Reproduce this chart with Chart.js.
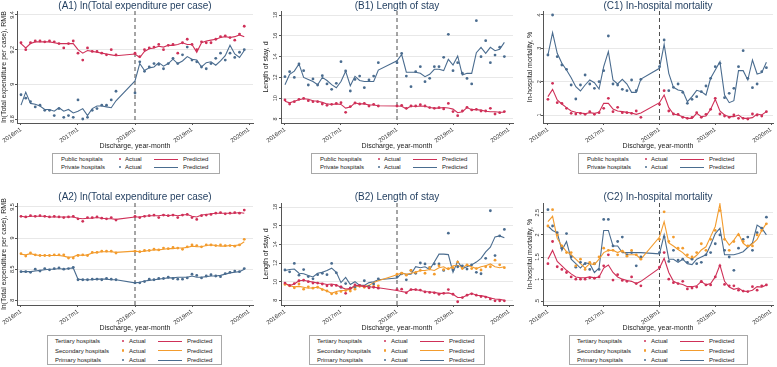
<!DOCTYPE html>
<html>
<head>
<meta charset="utf-8">
<script src="https://cdn.jsdelivr.net/npm/chart.js@4.4.1/dist/chart.umd.min.js"></script>
<style>
  body { margin: 0; width: 777px; height: 367px; background: #fff; position: relative; overflow: hidden; font-family: 'Liberation Sans', Arial, sans-serif; }
  canvas { position: absolute; }
  .legend { position: absolute; border: 1px solid #a8a8a8; box-sizing: border-box; background: #fff; }
  .legend span { position: absolute; white-space: nowrap; font-size: 6px; line-height: 8px; color: #222; }
  .legend i { position: absolute; display: block; }
</style>
</head>
<body>
<canvas id="a1"></canvas><canvas id="b1"></canvas><canvas id="c1"></canvas>
<canvas id="a2"></canvas><canvas id="b2"></canvas><canvas id="c2"></canvas>
<script>
// month index from 2016m1 (0); 2017m10-2017m12 are missing
const monthIdx = [0, 1, 2, 3, 4, 5, 6, 7, 8, 9, 10, 11, 12, 13, 14, 15, 16, 17, 18, 19, 20,
  24, 25, 26, 27, 28, 29, 30, 31, 32, 33, 34, 35, 36, 37, 38, 39, 40, 41, 42, 43, 44, 45, 46, 47];
const cutoffMonth = 24;
const xTickValues = [0, 12, 24, 36, 48];
const xTickLabels = ['2016m1', '2017m1', '2018m1', '2019m1', '2020m1'];

// (A1) ln(Total expenditure per case)
const a1PublicActual = [9.24, 9.20, 9.24, 9.25, 9.25, 9.245, 9.25, 9.245, 9.235, 9.21, 9.235, 9.25, 9.18, 9.14, 9.21, 9.19, 9.19, 9.18, 9.17, 9.20, 9.17,
  9.18, 9.16, 9.20, 9.21, 9.215, 9.23, 9.20, 9.225, 9.23, 9.18, 9.24, 9.26, 9.23, 9.20, 9.245, 9.24, 9.24, 9.26, 9.275, 9.28, 9.27, 9.255, 9.29, 9.335];
const a1PublicPred = [9.235, 9.21, 9.235, 9.245, 9.245, 9.245, 9.245, 9.24, 9.235, 9.235, 9.235, 9.235, 9.20, 9.18, 9.195, 9.19, 9.185, 9.18, 9.175, 9.17, 9.165,
  9.175, 9.155, 9.19, 9.205, 9.21, 9.22, 9.215, 9.225, 9.225, 9.23, 9.24, 9.23, 9.23, 9.185, 9.24, 9.25, 9.255, 9.26, 9.27, 9.275, 9.27, 9.275, 9.285, 9.275];
const a1PrivateActual = [8.94, 8.92, 8.90, 8.87, 8.88, 8.85, 8.85, 8.82, 8.86, 8.81, 8.82, 8.81, 8.91, 8.80, 8.81, 8.85, 8.86, 8.88, 8.88, 8.91, 8.96,
  8.95, 9.13, 9.075, 9.10, 9.12, 9.115, 9.09, 9.12, 9.15, 9.12, 9.17, 9.215, 9.14, 9.13, 9.10, 9.09, 9.12, 9.15, 9.18, 9.14, 9.18, 9.155, 9.185, 9.20];
const a1PrivatePred = [8.88, 8.955, 8.89, 8.885, 8.875, 8.855, 8.855, 8.845, 8.865, 8.845, 8.855, 8.835, 8.845, 8.86, 8.82, 8.86, 8.875, 8.875, 8.87, 8.865, 8.905,
  9.02, 9.12, 9.08, 9.095, 9.10, 9.125, 9.105, 9.12, 9.145, 9.12, 9.135, 9.16, 9.145, 9.14, 9.10, 9.125, 9.13, 9.11, 9.135, 9.165, 9.225, 9.175, 9.155, 9.195];

// (B1) Length of stay
const b1PublicActual = [9.83, 9.44, 9.67, 9.89, 9.99, 9.76, 9.67, 9.67, 9.44, 9.31, 9.41, 9.5, 9.57, 8.64, 9.19, 9.54, 9.44, 9.5, 9.25, 9.41, 9.25,
  9.25, 9.31, 9.03, 9.25, 9.25, 9.38, 9.25, 9.1, 9.03, 9.1, 8.97, 9.5, 8.71, 8.32, 8.77, 9.12, 8.87, 8.93, 8.77, 8.77, 9.03, 8.48, 8.61, 8.71];
const b1PublicPred = [9.7, 9.55, 9.7, 9.85, 9.95, 9.9, 9.75, 9.7, 9.6, 9.45, 9.4, 9.45, 9.4, 9.05, 9.15, 9.55, 9.45, 9.45, 9.35, 9.35, 9.28,
  9.25, 9.22, 8.98, 9.25, 9.2, 9.25, 9.22, 9.1, 9.05, 9.05, 9.1, 9.05, 8.95, 8.6, 8.7, 9.1, 8.9, 8.9, 8.85, 8.75, 8.7, 8.7, 8.65, 8.65];
const b1PrivateActual = [12.07, 12.55, 12.0, 13.29, 12.65, 11.27, 11.85, 11.27, 12.17, 11.37, 10.85, 11.43, 13.51, 12.62, 10.69, 11.81, 12.13, 11.01, 11.75, 12.13, 13.42,
  13.42, 14.31, 12.13, 11.11, 12.55, 13.03, 11.59, 11.91, 13.03, 13.03, 13.93, 16.14, 12.65, 13.42, 12.4, 11.9, 11.37, 17.45, 13.99, 15.53, 13.42, 14.15, 14.9, 14.0];
const b1PrivatePred = [11.3, 12.3, 12.6, 13.3, 12.0, 11.8, 11.6, 11.3, 12.0, 11.7, 11.3, 11.0, 11.6, 12.6, 11.2, 12.1, 11.7, 11.6, 11.6, 11.6, 12.7,
  13.6, 14.2, 12.5, 12.5, 12.5, 12.4, 12.07, 12.3, 12.78, 12.78, 12.65, 13.74, 13.19, 14.06, 12.23, 12.39, 12.39, 14.38, 14.89, 14.31, 14.89, 14.57, 14.7, 15.37];

// (C1) In-hospital mortality
const c1PublicActual = [1.47, 1.95, 1.37, 1.35, 1.2, 1.05, 1.03, 1.05, 1.02, 1.1, 1.02, 1.07, 1.2, 1.5, 1.1, 1.23, 1.07, 1.07, 1.05, 1.12, 0.93,
  1.32, 1.73, 1.12, 1.03, 1.02, 0.93, 0.9, 0.93, 1.07, 0.93, 1.02, 1.17, 1.5, 1.03, 0.97, 0.93, 1.0, 0.9, 0.9, 0.88, 1.03, 1.0, 0.97, 1.1];
const c1PublicPred = [1.55, 1.77, 1.45, 1.33, 1.22, 1.12, 1.08, 1.06, 1.04, 1.07, 1.05, 1.08, 1.35, 1.35, 1.18, 1.12, 1.1, 1.08, 1.06, 1.02, 1.06,
  1.37, 1.6, 1.22, 1.03, 1.0, 0.95, 0.9, 0.9, 1.05, 0.95, 0.97, 1.17, 1.47, 1.12, 1.0, 0.95, 0.95, 1.0, 0.9, 0.9, 0.92, 1.03, 1.0, 1.1];
const c1PrivateActual = [2.8, 4.0, 2.75, 2.5, 2.37, 1.9, 1.48, 1.9, 2.2, 1.93, 1.8, 2.0, 2.33, 3.37, 1.93, 1.9, 1.77, 1.73, 2.05, 1.73, 2.07,
  2.45, 3.25, 1.73, 1.83, 1.93, 1.68, 1.35, 1.47, 1.55, 1.7, 1.87, 2.1, 2.45, 2.55, 1.52, 1.65, 1.8, 2.45, 2.93, 2.1, 1.82, 1.93, 2.3, 2.42];
const c1PrivatePred = [2.8, 3.47, 2.85, 2.55, 2.35, 2.12, 1.85, 1.72, 1.9, 2.05, 1.97, 1.78, 2.45, 2.9, 2.05, 1.93, 2.07, 1.93, 1.68, 1.68, 2.08,
  2.4, 3.12, 2.25, 1.83, 1.75, 1.72, 1.4, 1.55, 1.74, 1.7, 1.6, 2.1, 2.35, 2.6, 1.6, 1.37, 1.43, 2.33, 2.33, 2.05, 2.65, 2.23, 2.27, 2.58];

// (A2) ln(Total expenditure per case) by level
const a2TertiaryActual = [9.35, 9.34, 9.36, 9.35, 9.36, 9.35, 9.34, 9.35, 9.34, 9.33, 9.34, 9.35, 9.31, 9.27, 9.33, 9.33, 9.34, 9.32, 9.31, 9.33, 9.29,
  9.35, 9.33, 9.35, 9.36, 9.37, 9.33, 9.37, 9.36, 9.37, 9.33, 9.37, 9.38, 9.33, 9.30, 9.36, 9.37, 9.38, 9.40, 9.41, 9.39, 9.40, 9.41, 9.40, 9.45];
const a2TertiaryPred = [9.35, 9.34, 9.35, 9.35, 9.35, 9.35, 9.34, 9.34, 9.34, 9.34, 9.34, 9.34, 9.32, 9.31, 9.32, 9.32, 9.33, 9.32, 9.31, 9.31, 9.30,
  9.34, 9.34, 9.35, 9.36, 9.36, 9.36, 9.37, 9.36, 9.37, 9.36, 9.37, 9.38, 9.35, 9.34, 9.37, 9.38, 9.39, 9.40, 9.40, 9.40, 9.40, 9.40, 9.41, 9.40];
const a2SecondaryActual = [8.75, 8.71, 8.76, 8.73, 8.72, 8.72, 8.72, 8.73, 8.73, 8.73, 8.68, 8.68, 8.72, 8.73, 8.72, 8.77, 8.77, 8.79, 8.79, 8.79, 8.76,
  8.79, 8.78, 8.80, 8.80, 8.82, 8.81, 8.84, 8.83, 8.85, 8.84, 8.82, 8.86, 8.89, 8.88, 8.86, 8.89, 8.89, 8.88, 8.89, 8.88, 8.88, 8.87, 8.89, 8.98];
const a2SecondaryPred = [8.74, 8.73, 8.75, 8.73, 8.72, 8.72, 8.72, 8.72, 8.72, 8.71, 8.69, 8.70, 8.73, 8.72, 8.73, 8.76, 8.77, 8.78, 8.78, 8.78, 8.77,
  8.79, 8.78, 8.79, 8.80, 8.81, 8.81, 8.82, 8.83, 8.83, 8.84, 8.84, 8.85, 8.87, 8.86, 8.86, 8.88, 8.89, 8.88, 8.87, 8.87, 8.88, 8.88, 8.89, 8.94];
const a2PrimaryActual = [8.46, 8.46, 8.45, 8.50, 8.47, 8.51, 8.49, 8.51, 8.52, 8.50, 8.51, 8.53, 8.33, 8.33, 8.33, 8.34, 8.34, 8.33, 8.35, 8.34, 8.33,
  8.28, 8.28, 8.30, 8.34, 8.33, 8.35, 8.35, 8.37, 8.35, 8.34, 8.34, 8.36, 8.42, 8.40, 8.36, 8.39, 8.41, 8.39, 8.38, 8.43, 8.45, 8.47, 8.46, 8.51];
const a2PrimaryPred = [8.46, 8.46, 8.46, 8.47, 8.48, 8.49, 8.50, 8.50, 8.51, 8.50, 8.51, 8.52, 8.34, 8.33, 8.33, 8.33, 8.34, 8.34, 8.34, 8.33, 8.33,
  8.28, 8.29, 8.31, 8.32, 8.33, 8.34, 8.35, 8.36, 8.36, 8.37, 8.37, 8.37, 8.39, 8.37, 8.37, 8.38, 8.39, 8.39, 8.40, 8.42, 8.44, 8.45, 8.46, 8.50];

// (B2) Length of stay by level
const b2TertiaryActual = [9.85, 9.6, 9.8, 10.1, 10.15, 10.0, 9.85, 9.85, 9.75, 9.55, 9.6, 9.6, 9.45, 8.75, 9.3, 9.65, 9.6, 9.5, 9.35, 9.4, 9.3,
  9.15, 9.2, 8.8, 9.15, 9.15, 9.1, 8.9, 8.85, 8.8, 8.65, 8.75, 9.15, 8.65, 7.85, 8.3, 8.55, 8.7, 8.55, 8.4, 8.35, 8.15, 7.95, 7.95, 7.95];
const b2TertiaryPred = [9.8, 9.6, 9.75, 10.1, 10.15, 10.05, 9.95, 9.85, 9.8, 9.7, 9.75, 9.65, 9.4, 9.2, 9.25, 9.6, 9.55, 9.5, 9.45, 9.4, 9.35,
  9.05, 8.95, 8.85, 9.15, 9.15, 9.05, 8.95, 8.9, 8.85, 8.75, 8.75, 8.8, 8.65, 8.3, 8.3, 8.55, 8.75, 8.55, 8.5, 8.4, 8.25, 8.15, 8.1, 8.0];
const b2SecondaryActual = [9.7, 9.55, 9.35, 9.75, 9.2, 9.45, 9.3, 9.4, 9.15, 9.0, 8.7, 8.75, 8.95, 9.05, 9.0, 9.2, 9.5, 9.4, 9.35, 9.5, 9.55,
  10.8, 10.9, 10.7, 11.2, 11.0, 11.2, 10.9, 11.5, 10.8, 11.7, 11.3, 11.4, 11.5, 12.1, 11.4, 11.8, 11.4, 11.4, 11.25, 11.6, 11.6, 12.3, 11.8, 11.5];
const b2SecondaryPred = [9.8, 9.55, 9.45, 9.5, 9.4, 9.3, 9.35, 9.4, 9.2, 9.0, 8.75, 8.95, 9.05, 9.05, 9.2, 9.5, 9.55, 9.5, 9.6, 9.9, 10.1,
  10.75, 10.95, 10.8, 10.9, 11.0, 11.2, 11.2, 11.3, 11.2, 11.5, 11.6, 11.3, 11.7, 11.75, 11.5, 11.8, 11.6, 11.4, 11.6, 11.7, 11.9, 11.6, 11.5, 11.6];
const b2PrimaryActual = [11.25, 11.05, 11.95, 10.7, 11.3, 10.55, 10.3, 10.75, 10.9, 10.75, 11.95, 10.95, 9.4, 9.8, 9.3, 9.35, 9.55, 10.1, 9.5, 9.75, 10.3,
  10.5, 10.85, 10.2, 11.2, 10.9, 12.0, 11.9, 11.5, 11.9, 11.9, 11.2, 15.2, 11.25, 11.6, 11.7, 11.35, 11.8, 11.0, 10.85, 12.5, 17.6, 12.8, 14.9, 15.6];
const b2PrimaryPred = [11.2, 11.3, 11.35, 10.9, 10.85, 10.65, 10.5, 10.9, 11.0, 11.2, 11.45, 11.0, 9.9, 10.45, 9.7, 10.0, 9.6, 9.6, 9.9, 10.0, 10.2,
  10.4, 10.9, 10.8, 10.8, 11.6, 11.5, 11.6, 11.3, 12.1, 12.95, 12.95, 12.9, 11.0, 12.2, 11.4, 11.6, 11.8, 12.1, 12.5, 13.2, 13.7, 14.8, 14.9, 14.7];

// (C2) In-hospital mortality by level
const c2TertiaryActual = [1.35, 1.85, 1.28, 1.22, 1.15, 1.05, 1.0, 1.0, 1.0, 1.03, 1.02, 1.05, 1.3, 1.55, 0.98, 1.1, 0.97, 0.95, 1.05, 0.9, 0.85,
  1.27, 1.6, 1.0, 0.92, 0.9, 0.95, 0.78, 0.8, 0.82, 0.95, 0.87, 0.87, 1.05, 1.3, 0.88, 0.85, 0.85, 0.75, 0.73, 0.72, 0.83, 0.75, 0.85, 0.87];
const c2TertiaryPred = [1.45, 1.65, 1.4, 1.3, 1.2, 1.12, 1.05, 1.03, 1.03, 1.05, 1.03, 1.05, 1.25, 1.32, 1.15, 1.05, 1.0, 0.97, 0.95, 0.9, 0.95,
  1.25, 1.47, 1.15, 0.95, 0.9, 0.88, 0.83, 0.83, 0.85, 0.95, 0.87, 0.9, 1.05, 1.32, 0.95, 0.82, 0.77, 0.8, 0.73, 0.72, 0.75, 0.83, 0.82, 0.87];
const c2SecondaryActual = [2.2, 2.57, 2.0, 1.75, 1.6, 1.6, 1.3, 1.45, 1.22, 1.38, 1.35, 1.5, 1.7, 1.65, 1.65, 1.55, 1.63, 1.52, 1.65, 1.55, 1.45,
  1.9, 2.52, 1.85, 1.95, 1.7, 1.7, 1.55, 1.5, 1.6, 1.8, 1.65, 1.9, 2.1, 2.55, 1.9, 1.65, 1.85, 2.0, 1.85, 1.75, 1.75, 2.0, 2.1, 2.25];
const c2SecondaryPred = [2.3, 2.42, 1.92, 1.75, 1.62, 1.55, 1.45, 1.35, 1.25, 1.35, 1.33, 1.45, 1.6, 1.65, 1.65, 1.6, 1.65, 1.55, 1.55, 1.55, 1.45,
  1.95, 2.3, 1.82, 1.75, 1.67, 1.6, 1.5, 1.45, 1.54, 1.66, 1.73, 1.96, 2.19, 2.7, 1.92, 1.77, 1.88, 2.03, 1.81, 1.73, 1.8, 1.9, 2.1, 2.26];
const c2PrimaryActual = [2.57, 2.2, 2.05, 1.7, 2.03, 1.5, 1.27, 1.38, 1.35, 1.22, 1.35, 1.22, 2.35, 2.35, 1.75, 1.85, 1.95, 1.55, 1.6, 1.3, 1.5,
  1.6, 1.95, 1.4, 1.65, 1.43, 1.45, 1.38, 1.45, 1.35, 1.38, 1.55, 1.6, 1.8, 2.0, 1.65, 1.5, 1.2, 1.7, 1.9, 1.95, 1.65, 2.05, 2.15, 2.4];
const c2PrimaryPred = [2.2, 2.1, 2.05, 1.65, 1.85, 1.45, 1.35, 1.25, 1.37, 1.35, 1.15, 1.25, 2.1, 2.1, 1.75, 1.75, 1.6, 1.6, 1.6, 1.6, 1.6,
  1.57, 2.0, 1.45, 1.45, 1.38, 1.45, 1.35, 1.33, 1.45, 1.5, 1.55, 1.77, 2.03, 2.15, 1.55, 1.55, 1.55, 1.58, 1.62, 1.72, 1.82, 2.22, 2.15, 2.0];

// y tick values per panel
const a1Ticks = [8.8, 9, 9.2, 9.4];
const a2Ticks = [8, 8.5, 9, 9.5];
const bTicks = [8, 10, 12, 14, 16, 18];
const c1Ticks = [1, 2, 3, 4];
const c2Ticks = [0.5, 1, 1.5, 2, 2.5];

const RED = '#cf3058';
const ORANGE = '#f39c2e';
const BLUE = '#4a6c8f';
const FONT = "'Liberation Sans', Arial, sans-serif";

const cols = [
  {left: 0, width: 258, axisW: 17, padR: 5, xMin: -0.84, xMax: 48.84, yTitlePad: 0.3},
  {left: 258, width: 259, axisW: 23, padR: 2, xMin: -0.85, xMax: 48.85, yTitlePad: 4.1},
  {left: 517, width: 260, axisW: 26, padR: 0, xMin: -1.06, xMax: 48.42, yTitlePad: 8.8}
];
const rows = [
  {top: 0, height: 152, titlePad: {top: 1, bottom: 0}, legendTop: 153, legendH: 21, rowStep: 8},
  {top: 190, height: 144, titlePad: {top: 2, bottom: 1}, legendTop: 335, legendH: 30, rowStep: 9.5}
];

const panels = [
  {id: 'a1', col: 0, row: 0, title: '(A1) ln(Total expenditure per case)', yTitle: 'ln(Total expenditure per case), RMB',
   yTicks: a1Ticks, yMin: 8.777, yMax: 9.423, tickPad: -1.3, legend: {left: 52, width: 168},
   series: [['Public hospitals', RED, a1PublicActual, a1PublicPred], ['Private hospitals', BLUE, a1PrivateActual, a1PrivatePred]]},
  {id: 'b1', col: 1, row: 0, title: '(B1) Length of stay', yTitle: 'Length of stay, d',
   yTicks: bTicks, yMin: 7.615, yMax: 18.385, tickPad: 0, legend: {left: 311, width: 167},
   series: [['Public hospitals', RED, b1PublicActual, b1PublicPred], ['Private hospitals', BLUE, b1PrivateActual, b1PrivatePred]]},
  {id: 'c1', col: 2, row: 0, title: '(C1) In-hospital mortality', yTitle: 'In-hospital mortality, %',
   yTicks: c1Ticks, yMin: 0.76, yMax: 4.12, tickPad: -0.5, legend: {left: 578, width: 179},
   series: [['Public hospitals', RED, c1PublicActual, c1PublicPred], ['Private hospitals', BLUE, c1PrivateActual, c1PrivatePred]]},
  {id: 'a2', col: 0, row: 1, title: '(A2) ln(Total expenditure per case)', yTitle: 'ln(Total expenditure per case), RMB',
   yTicks: a2Ticks, yMin: 7.924, yMax: 9.564, tickPad: -1.3, legend: {left: 47, width: 175},
   series: [['Tertiary hospitals', RED, a2TertiaryActual, a2TertiaryPred], ['Secondary hospitals', ORANGE, a2SecondaryActual, a2SecondaryPred],
            ['Primary hospitals', BLUE, a2PrimaryActual, a2PrimaryPred]]},
  {id: 'b2', col: 1, row: 1, title: '(B2) Length of stay', yTitle: 'Length of stay, d',
   yTicks: bTicks, yMin: 7.5, yMax: 18.43, tickPad: 0, legend: {left: 309, width: 176},
   series: [['Tertiary hospitals', RED, b2TertiaryActual, b2TertiaryPred], ['Secondary hospitals', ORANGE, b2SecondaryActual, b2SecondaryPred],
            ['Primary hospitals', BLUE, b2PrimaryActual, b2PrimaryPred]]},
  {id: 'c2', col: 2, row: 1, title: '(C2) In-hospital mortality', yTitle: 'In-hospital mortality, %',
   yTicks: c2Ticks, yMin: 0.416, yMax: 2.72, tickPad: -0.5, legend: {left: 569, width: 179},
   series: [['Tertiary hospitals', RED, c2TertiaryActual, c2TertiaryPred], ['Secondary hospitals', ORANGE, c2SecondaryActual, c2SecondaryPred],
            ['Primary hospitals', BLUE, c2PrimaryActual, c2PrimaryPred]]}
];

function pts(arr) {
  return monthIdx.map((m, i) => ({x: m, y: arr[i]}));
}

function stataNum(v) {
  return v > 0 && v < 1 ? String(v).replace(/^0/, '') : String(v);
}

// dashed line at 2018m1
const cutoffLine = {
  id: 'cutoffLine',
  beforeDatasetsDraw(chart) {
    const {ctx, chartArea, scales} = chart;
    const px = scales.x.getPixelForValue(cutoffMonth);
    ctx.save();
    ctx.strokeStyle = '#4d4d4d';
    ctx.lineWidth = 1;
    ctx.setLineDash([4, 3]);
    ctx.beginPath();
    ctx.moveTo(px, chartArea.top);
    ctx.lineTo(px, chartArea.bottom);
    ctx.stroke();
    ctx.restore();
  }
};

function addLegend(p, row) {
  const box = document.createElement('div');
  box.className = 'legend';
  box.style.left = p.legend.left + 'px';
  box.style.top = row.legendTop + 'px';
  box.style.width = p.legend.width + 'px';
  box.style.height = row.legendH + 'px';
  const three = p.series.length === 3;
  const off = three ? {label: 7, dot: 75, actual: 81, line: 110, lineW: 24, pred: 139}
                    : {label: 8, dot: 67, actual: 72, line: 101, lineW: 24, pred: 130};
  p.series.forEach((s, i) => {
    const cy = 5 + i * row.rowStep;
    const add = (txt, left) => {
      const el = document.createElement('span');
      el.textContent = txt;
      el.style.left = left + 'px';
      el.style.top = (cy - 4) + 'px';
      box.appendChild(el);
    };
    add(s[0], off.label);
    add('Actual', off.actual);
    add('Predicted', off.pred);
    const dot = document.createElement('i');
    dot.style.cssText = `left:${off.dot - 1.3}px;top:${cy - 1.3}px;width:2.6px;height:2.6px;border-radius:50%;background:${s[1]}`;
    box.appendChild(dot);
    const ln = document.createElement('i');
    ln.style.cssText = `left:${off.line}px;top:${cy - 0.5}px;width:${off.lineW}px;height:1px;background:${s[1]}`;
    box.appendChild(ln);
  });
  document.body.appendChild(box);
}

panels.forEach(p => {
  const col = cols[p.col];
  const row = rows[p.row];
  const cv = document.getElementById(p.id);
  cv.width = col.width;
  cv.height = row.height;
  cv.style.left = col.left + 'px';
  cv.style.top = row.top + 'px';

  const datasets = [];
  p.series.forEach(s => {
    datasets.push({
      type: 'scatter', label: s[0] + ' Actual', data: pts(s[2]),
      pointRadius: 1.4, pointBorderWidth: 0, pointBackgroundColor: s[1], backgroundColor: s[1]
    });
  });
  p.series.forEach(s => {
    datasets.push({
      type: 'line', label: s[0] + ' Predicted', data: pts(s[3]),
      borderColor: s[1], borderWidth: 1.1, pointRadius: 0, tension: 0, fill: false
    });
  });

  new Chart(cv, {
    type: 'line',
    data: {datasets},
    options: {
      responsive: false,
      animation: false,
      devicePixelRatio: 1,
      layout: {padding: {left: 0, right: col.padR, top: 0, bottom: 0}},
      plugins: {
        legend: {display: false},
        tooltip: {enabled: false},
        title: {
          display: true, text: p.title, fullSize: false, color: '#1f3c5e',
          font: {family: FONT, size: 10, weight: 'normal', lineHeight: 1.0},
          padding: row.titlePad
        }
      },
      scales: {
        x: {
          type: 'linear', min: col.xMin, max: col.xMax,
          afterFit: s => { s.height = 29; },
          afterBuildTicks: s => { s.ticks = xTickValues.map(v => ({value: v})); },
          grid: {drawOnChartArea: false, tickLength: 2, tickColor: '#555'},
          border: {display: true, color: '#555', width: 1},
          ticks: {
            autoSkip: false, minRotation: 35, maxRotation: 35, padding: 1, color: '#333',
            font: {family: FONT, size: 6},
            callback: v => xTickLabels[xTickValues.indexOf(v)]
          },
          title: {
            display: true, text: 'Discharge, year-month', color: '#222',
            font: {family: FONT, size: 7, lineHeight: 1.2}, padding: {top: 0, bottom: 2}
          }
        },
        y: {
          type: 'linear', min: p.yMin, max: p.yMax,
          afterFit: s => { s.width = col.axisW; },
          afterBuildTicks: s => { s.ticks = p.yTicks.map(v => ({value: v})); },
          grid: {color: '#e8e8e8', lineWidth: 1, tickLength: 2, tickColor: '#555'},
          border: {display: true, color: '#555', width: 1},
          ticks: {
            autoSkip: false, minRotation: 90, maxRotation: 90, crossAlign: 'center', padding: p.tickPad,
            color: '#333', font: {family: FONT, size: 5.5},
            callback: v => stataNum(v)
          },
          title: {
            display: true, text: p.yTitle, color: '#222',
            font: {family: FONT, size: 7, lineHeight: 1.2}, padding: {top: col.yTitlePad, bottom: 0}
          }
        }
      }
    },
    plugins: [cutoffLine]
  });

  addLegend(p, row);
});
</script>
</body>
</html>
